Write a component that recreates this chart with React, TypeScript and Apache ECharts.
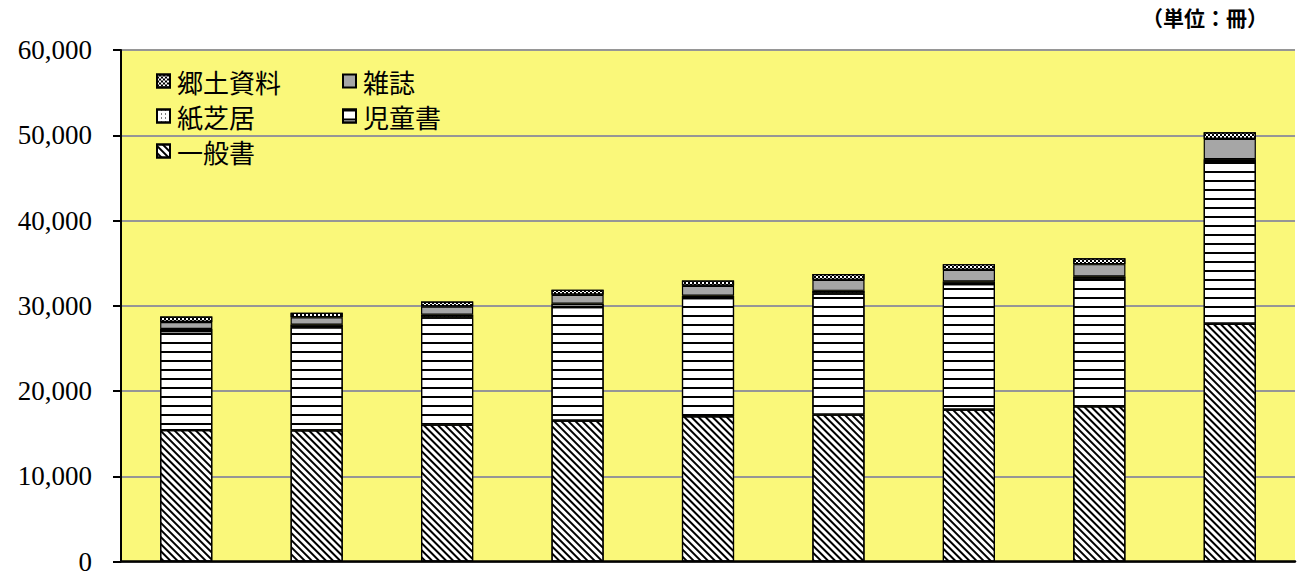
import React, { useEffect, useRef } from "react";
import * as echarts from "echarts";

const categories = ["1", "2", "3", "4", "5", "6", "7", "8", "9"];
const ippan = [15410, 15380, 16060, 16520, 17030, 17230, 17810, 18200, 27890];
const jidou = [11620, 12100, 12570, 13330, 13880, 14210, 14730, 14960, 19100];
const kamishibai = [240, 310, 310, 380, 270, 310, 300, 270, 200];
const zasshi = [820, 860, 970, 1060, 1170, 1290, 1370, 1450, 2380];
const kyodo = [650, 520, 590, 590, 620, 670, 670, 700, 790];
const yTicks = { min: 0, max: 60000, interval: 10000 };
const unitLabel = "（単位：冊）";

const decals: Record<string, any> = {
  一般書: { symbol: "rect", symbolSize: 1, color: "#000", dashArrayX: [1, 0], dashArrayY: [1.5, 3], rotation: Math.PI / 4 },
  児童書: { symbol: "rect", symbolSize: 1, color: "#000", dashArrayX: [1, 0], dashArrayY: [2, 6.5], rotation: 0 },
  紙芝居: { symbol: "rect", symbolSize: 1, color: "#000", dashArrayX: [1, 3], dashArrayY: [1, 3], rotation: 0 },
  雑誌: "none",
  郷土資料: { symbol: "rect", symbolSize: 1, color: "#000", dashArrayX: [[2, 2], [0, 2, 2, 0]], dashArrayY: [2, 0], rotation: 0 },
};
const fills: Record<string, string> = {
  一般書: "#ffffff",
  児童書: "#ffffff",
  紙芝居: "#ffffff",
  雑誌: "#a6a6a6",
  郷土資料: "#ffffff",
};

export default function App() {
  const ref = useRef<HTMLDivElement>(null);
  useEffect(() => {
    if (!ref.current) return;
    const chart = echarts.init(ref.current, null, { renderer: "svg" });
    const seriesDefs: [string, number[]][] = [
      ["一般書", ippan],
      ["児童書", jidou],
      ["紙芝居", kamishibai],
      ["雑誌", zasshi],
      ["郷土資料", kyodo],
    ];
    const legendText = {
      fontFamily: "'Noto Sans CJK JP'",
      fontSize: 26,
      lineHeight: 26,
      color: "#000",
      padding: [0, 0, 0, 2],
    };
    const legendBase = {
      orient: "vertical",
      top: 68,
      padding: 0,
      itemGap: 9,
      itemWidth: 13,
      itemHeight: 13,
      icon: "rect",
      textStyle: legendText,
    };
    chart.setOption({
      animation: false,
      backgroundColor: "#ffffff",
      grid: {
        left: 121,
        top: 50,
        right: 9,
        bottom: 13,
        show: true,
        backgroundColor: "#faf87a",
        borderWidth: 0,
      },
      legend: [
        { ...legendBase, data: ["郷土資料", "紙芝居", "一般書"], left: 156 },
        { ...legendBase, data: ["雑誌", "児童書"], left: 342 },
      ],
      graphic: [
        {
          type: "text",
          right: 36,
          top: 6,
          style: {
            text: unitLabel,
            font: "bold 21px 'Noto Sans CJK JP'",
            fill: "#000",
          },
        },
      ],
      xAxis: {
        type: "category",
        data: categories,
        axisLine: { show: true, lineStyle: { color: "#000", width: 2.5 } },
        axisTick: { show: false },
        axisLabel: { show: false },
        splitLine: { show: false },
      },
      yAxis: {
        type: "value",
        min: yTicks.min,
        max: yTicks.max,
        interval: yTicks.interval,
        axisLine: { show: true, lineStyle: { color: "#000", width: 2 } },
        axisTick: { show: true, inside: false, length: 8, lineStyle: { color: "#000", width: 2 } },
        axisLabel: {
          margin: 29,
          fontFamily: "'Liberation Serif', serif",
          fontSize: 27,
          color: "#000",
          formatter: (v: number) => v.toLocaleString("en-US"),
        },
        splitLine: { show: true, lineStyle: { color: "#969696", width: 2 } },
      },
      series: seriesDefs.map(([name, data]) => ({
        name,
        type: "bar",
        stack: "total",
        data,
        barWidth: "40%",
        itemStyle: {
          color: fills[name],
          borderColor: "#000",
          borderWidth: 1.2,
          decal: decals[name],
        },
        emphasis: { disabled: true },
      })),
    });
    return () => chart.dispose();
  }, []);
  return (
    <div
      ref={ref}
      style={{ position: "absolute", left: 0, top: 0, width: 1304, height: 575 }}
    />
  );
}
